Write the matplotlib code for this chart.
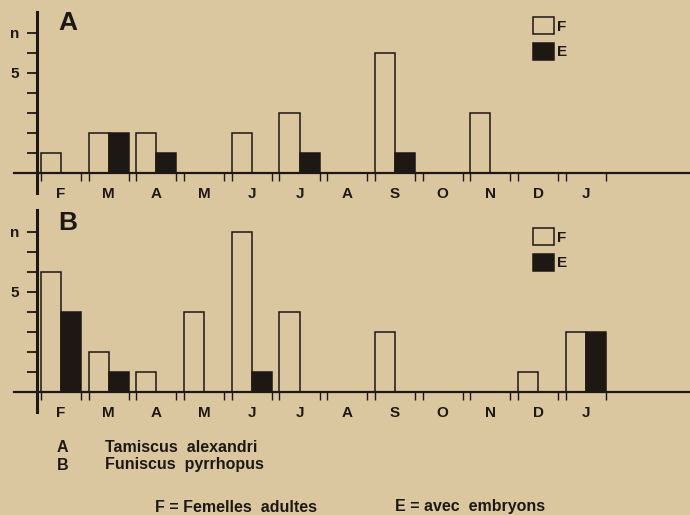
import numpy as np
import matplotlib
matplotlib.use("Agg")
import matplotlib.pyplot as plt
from matplotlib.patches import Patch

plt.rcParams["font.family"] = ["Liberation Sans", "DejaVu Sans"]

months = ["F", "M", "A", "M", "J", "J", "A", "S", "O", "N", "D", "J"]

# A: Tamiscus alexandri
a_femelles = [1, 2, 2, 0, 2, 3, 0, 6, 0, 3, 0, 0]
a_embryons = [0, 2, 1, 0, 0, 1, 0, 1, 0, 0, 0, 0]

# B: Funiscus pyrrhopus
b_femelles = [6, 2, 1, 4, 8, 4, 0, 3, 0, 0, 1, 3]
b_embryons = [4, 1, 0, 0, 1, 0, 0, 0, 0, 0, 0, 3]

BG = "#dbc79f"
INK = "#1d1813"
W, H = 690, 515
MONTH_PX = 47.7
X0_PX = 61
UNIT_PX = 20
BW = 0.42

fig = plt.figure(figsize=(6.9, 5.15), dpi=100, facecolor=BG)


def panel(top, bottom, zero, fem, emb, letter, nmax, ytop_px, leg_top):
    ax = fig.add_axes([0, 1 - bottom / H, 1, (bottom - top) / H])
    ax.set_facecolor("none")
    ax.set_xlim(-X0_PX / MONTH_PX, (W - X0_PX) / MONTH_PX)
    ax.set_ylim(-(bottom - zero) / UNIT_PX, (zero - top) / UNIT_PX)

    x = np.arange(len(months))
    fem = np.array(fem)
    emb = np.array(emb)
    mf = fem > 0
    me = emb > 0
    ax.bar(x[mf] - BW / 2, fem[mf], width=BW, facecolor="none",
           edgecolor=INK, linewidth=1.1, zorder=3)
    ax.bar(x[me] + BW / 2, emb[me], width=BW, facecolor=INK,
           edgecolor=INK, linewidth=1.1, zorder=3)

    for s in ["top", "right"]:
        ax.spines[s].set_visible(False)
    ax.spines["left"].set_position(("data", -24 / MONTH_PX))
    ax.spines["left"].set_bounds(-1.0, (zero - ytop_px) / UNIT_PX)
    ax.spines["left"].set_linewidth(2.2)
    ax.spines["bottom"].set_position(("data", 0))
    ax.spines["bottom"].set_bounds(-47 / MONTH_PX, 14)
    ax.spines["bottom"].set_linewidth(1.6)
    for s in ["left", "bottom"]:
        ax.spines[s].set_color(INK)

    yt = list(range(1, nmax + 1))
    ax.set_yticks(yt)
    ax.set_yticklabels(["5" if v == 5 else ("n" if v == nmax else "") for v in yt],
                       fontsize=11, fontweight="bold", color=INK)
    ax.tick_params(axis="y", direction="out", length=7, width=1.3,
                   color=INK, pad=6)

    ax.set_xticks(np.concatenate([x - BW, x + BW]))
    ax.set_xticklabels([])
    ax.set_xticks(x, minor=True)
    ax.set_xticklabels(months, minor=True, fontsize=11,
                       fontweight="bold", color=INK)
    ax.tick_params(axis="x", which="major", direction="out", length=6,
                   width=1.0, color=INK)
    ax.tick_params(axis="x", which="minor", length=0, pad=10)

    ax.text(0.15, (zero - (top + 23)) / UNIT_PX, letter, fontsize=19,
            fontweight="bold", color=INK, ha="center", va="center")

    handles = [Patch(facecolor="none", edgecolor=INK, linewidth=1.1),
               Patch(facecolor=INK, edgecolor=INK, linewidth=1.1)]
    ax.legend(handles, ["F", "E"], loc="upper left",
              bbox_to_anchor=(533 / W, 1 - leg_top / H),
              bbox_transform=fig.transFigure, frameon=False,
              borderpad=0, borderaxespad=0, handlelength=1.35,
              handleheight=1.35, handletextpad=0.25, labelspacing=0.55,
              prop={"size": 11, "weight": "bold"}, labelcolor=INK)
    return ax


panel(0, 200, 173, a_femelles, a_embryons, "A", 7, 12, 17)
panel(200, 430, 392, b_femelles, b_embryons, "B", 8, 210, 228)

kw = dict(fontsize=11.5, color=INK, va="center", fontweight="bold")
fig.text(57 / W, 1 - 447 / H, "A", **kw)
fig.text(105 / W, 1 - 447 / H, "Tamiscus  alexandri", **kw)
fig.text(57 / W, 1 - 465 / H, "B", **kw)
fig.text(105 / W, 1 - 465 / H, "Funiscus  pyrrhopus", **kw)
fig.text(155 / W, 1 - 507 / H, "F = Femelles  adultes", **kw)
fig.text(395 / W, 1 - 507 / H, "E = avec  embryons", **kw)

fig.savefig("out.png", dpi=100, facecolor=BG)
